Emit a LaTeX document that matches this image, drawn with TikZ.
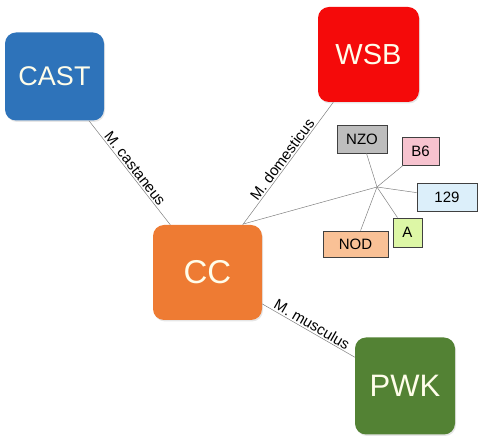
\documentclass[tikz,border=0pt]{standalone}
\usepackage{fontspec}
\setmainfont{Liberation Sans}
\usetikzlibrary{shadows,calc}
\definecolor{castblue}{HTML}{2E73BA}
\definecolor{wsbred}{HTML}{F50A0A}
\definecolor{ccorange}{HTML}{EE7B33}
\definecolor{pwkgreen}{HTML}{538234}
\definecolor{strtext}{HTML}{FFFDEA}
\definecolor{boxline}{HTML}{404040}
\definecolor{nzogray}{HTML}{BDBDBD}
\definecolor{bsixpink}{HTML}{F7C3CF}
\definecolor{otwnblue}{HTML}{DCEFFA}
\definecolor{agreen}{HTML}{DDF7A6}
\definecolor{nodpeach}{HTML}{F9C196}
\begin{document}
\begin{tikzpicture}[x=1pt,y=-1pt,
    strain/.style={rounded corners=11pt,text=strtext,inner sep=0pt,
      font=\fontsize{28}{30}\selectfont,
      drop shadow={opacity=0.2,shadow xshift=1pt,shadow yshift=-1.5pt}},
    inbred/.style={draw=boxline,line width=0.8pt,inner sep=0pt,minimum height=28pt,
      font=\fontsize{15}{17}\selectfont},
    branch/.style={draw=gray,line width=0.5pt},
    taxon/.style={sloped,above,inner sep=1.5pt,text=black,
      font=\fontsize{15}{17}\selectfont}]
  \useasboundingbox (0,0) rectangle (491,443);
  \draw
    (54.5,76.5) node[strain,fill=castblue,minimum width=99pt,minimum height=88pt,
      font=\fontsize{27}{29}\selectfont] (cast){CAST}
    (368.5,54.5) node[strain,fill=wsbred,minimum width=101pt,minimum height=95pt,
      font=\fontsize{29}{31}\selectfont] (wsb){WSB}
    (207.5,272.5) node[strain,fill=ccorange,minimum width=109pt,minimum height=95pt,
      font=\fontsize{33}{35}\selectfont] (cc){CC}
    (405,386) node[strain,fill=pwkgreen,minimum width=100pt,minimum height=97pt,
      font=\fontsize{31}{33}\selectfont] (pwk){PWK};
  \draw
    (362,139) node[inbred,fill=nzogray,minimum width=50pt] (nzo){NZO}
    (420.5,151) node[inbred,fill=bsixpink,minimum width=37pt] (b6){B6}
    (447,197) node[inbred,fill=otwnblue,minimum width=60pt] (n129){129}
    (407.5,232.5) node[inbred,fill=agreen,minimum width=29pt,minimum height=29pt] (a){A}
    (355.5,244) node[inbred,fill=nodpeach,minimum width=65pt,minimum height=26pt] (nod){NOD};
  \coordinate (hub) at (377,187);
  \coordinate (split) at ($(cc)!0.2225!(wsb)$);
  \begin{scope}[branch]
    \draw (cast) to node[taxon]{M. castaneus} (cc);
    \draw (cc) to node[taxon]{M. domesticus} (wsb);
    \draw (cc) to node[taxon]{M. musculus} (pwk);
    \draw (split) to (hub);
    \draw (hub) to (nzo);
    \draw (hub) to (b6);
    \draw (hub) to (n129);
    \draw (hub) to (a);
    \draw (hub) to (nod);
  \end{scope}
\end{tikzpicture}
\end{document}
